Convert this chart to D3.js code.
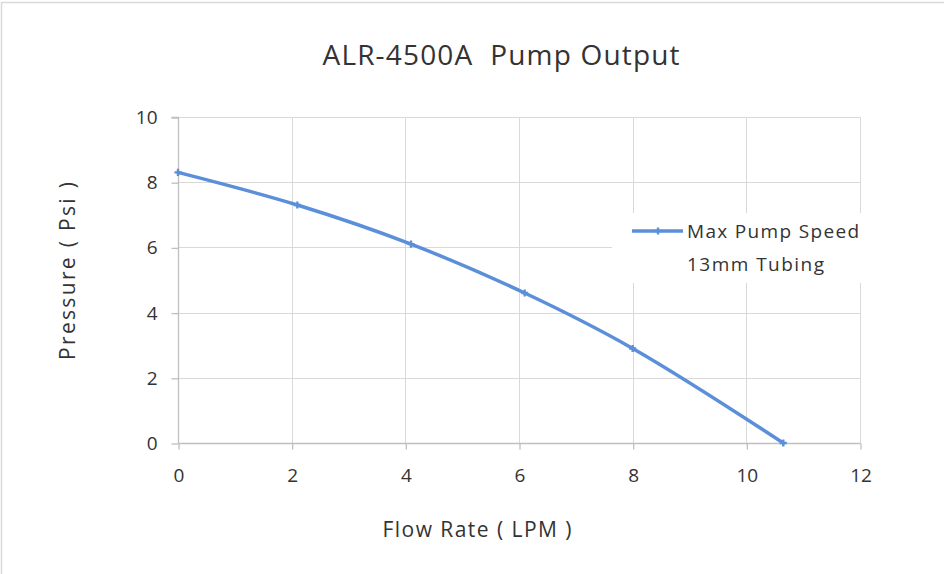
<!DOCTYPE html>
<html><head><meta charset="utf-8">
<script src="https://cdn.jsdelivr.net/npm/d3@7"></script>
<style>body{margin:0;background:#fff;} svg{display:block;} text{font-family:"Open Sans","DejaVu Sans",sans-serif;fill:#333;}</style>
</head><body>
<script>
const flowRate = [0, 2.1, 4.1, 6.1, 8.0, 10.65];
const pressure = [8.3, 7.3, 6.1, 4.6, 2.9, 0];
const xTicks = [0, 2, 4, 6, 8, 10, 12];
const yTicks = [0, 2, 4, 6, 8, 10];
const seriesName = ["Max Pump Speed", "13mm Tubing"];
const title = "ALR-4500A  Pump Output";
const xTitle = "Flow Rate ( LPM )";
const yTitle = "Pressure ( Psi )";

const W = 944, H = 574;
const svg = d3.select("body").append("svg").attr("width", W).attr("height", H);
svg.append("rect").attr("x", 1.5).attr("y", 2.5).attr("width", W + 5).attr("height", H + 5)
  .attr("fill", "#fff").attr("stroke", "#d9d9d9").attr("stroke-width", 1.5);

const x = d3.scaleLinear().domain([0, 12]).range([178, 860]);
const y = d3.scaleLinear().domain([0, 10]).range([443, 117]);

const grid = svg.append("g");
grid.selectAll("line.h").data(yTicks.filter(d => d !== 0)).join("line")
  .attr("x1", 178).attr("x2", 860).attr("y1", d => Math.round(y(d)) + 0.5).attr("y2", d => Math.round(y(d)) + 0.5)
  .attr("stroke", "#d9d9d9").attr("stroke-width", 1);
grid.selectAll("line.v").data(xTicks.filter(d => d !== 0)).join("line")
  .attr("y1", 117).attr("y2", 443).attr("x1", d => Math.round(x(d)) + 0.5).attr("x2", d => Math.round(x(d)) + 0.5)
  .attr("stroke", "#d9d9d9").attr("stroke-width", 1);

const xAxis = d3.axisBottom(x).tickValues(xTicks).tickSize(6).tickPadding(19).tickFormat(d3.format("d"));
const yAxis = d3.axisLeft(y).tickValues(yTicks).tickSize(7).tickPadding(14).tickFormat(d3.format("d"));
const gx = svg.append("g").attr("transform", `translate(0.5,${Math.round(y(0)) + 0.5})`).call(xAxis);
const gy = svg.append("g").attr("transform", `translate(${Math.round(x(0)) + 0.5},0.5)`).call(yAxis);
[gx, gy].forEach(g => {
  g.select(".domain").attr("stroke", "#bfbfbf").attr("stroke-width", 1.3);
  g.selectAll(".tick line").attr("stroke", "#bfbfbf").attr("stroke-width", 1.3);
  g.selectAll(".tick text").style("font-size", "19px").attr("fill", "#333")
    .style("font-family", '"Open Sans","DejaVu Sans",sans-serif');
});
gy.select(".domain").attr("d", `M-7,${y(10)}H0V${y(0)}`);
gx.select(".domain").attr("d", `M${x(0)},0H${x(12)}`);

svg.append("rect").attr("x", 612).attr("y", 213).attr("width", 252).attr("height", 70).attr("fill", "#fff");

const pts = flowRate.map((d, i) => [d, pressure[i]]);
const color = "#5b8fd9";
svg.append("path").datum(pts)
  .attr("d", d3.line().x(d => x(d[0])).y(d => y(d[1])).curve(d3.curveCatmullRom.alpha(0.5)))
  .attr("fill", "none").attr("stroke", color).attr("stroke-width", 3.5).attr("stroke-linecap", "round");
const marker = d3.symbol().type(d3.symbolCross).size(28);
svg.selectAll("path.m").data(pts).join("path")
  .attr("transform", d => `translate(${x(d[0])},${y(d[1])})`).attr("d", marker).attr("fill", color);

svg.append("line").attr("x1", 632).attr("x2", 683).attr("y1", 231).attr("y2", 231)
  .attr("stroke", color).attr("stroke-width", 3.5);
svg.append("path").attr("transform", "translate(658,231)").attr("d", marker).attr("fill", color);
svg.append("text").attr("x", 687).attr("y", 238).style("font-size", "19px")
  .attr("textLength", 172).attr("lengthAdjust", "spacing").text(seriesName[0]);
svg.append("text").attr("x", 687).attr("y", 271).style("font-size", "19px")
  .attr("textLength", 137).attr("lengthAdjust", "spacing").text(seriesName[1]);

svg.append("text").attr("x", 501).attr("y", 65).attr("text-anchor", "middle").style("font-size", "28px")
  .style("white-space", "pre").attr("xml:space", "preserve")
  .attr("textLength", 357).attr("lengthAdjust", "spacing").text(title);
svg.append("text").attr("x", 477).attr("y", 537).attr("text-anchor", "middle").style("font-size", "21px")
  .attr("textLength", 189).attr("lengthAdjust", "spacing").text(xTitle);
svg.append("text").attr("transform", "translate(75,271) rotate(-90)").attr("text-anchor", "middle")
  .style("font-size", "21px").attr("textLength", 178).attr("lengthAdjust", "spacing").text(yTitle);
</script>
</body></html>
